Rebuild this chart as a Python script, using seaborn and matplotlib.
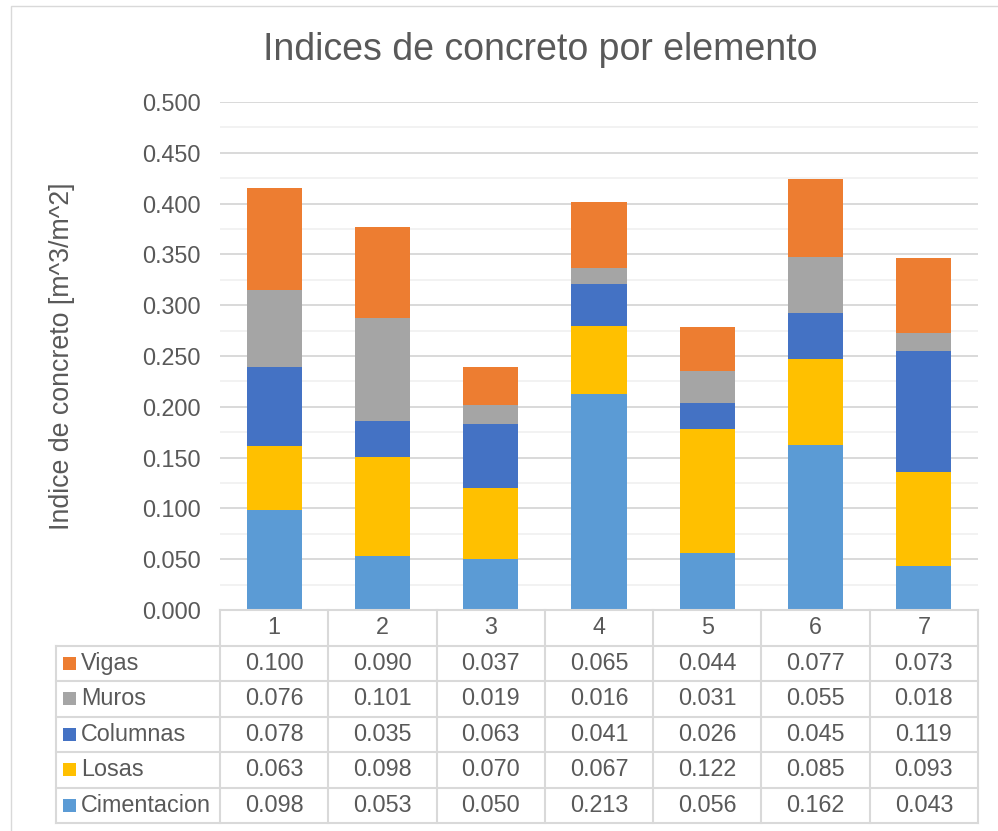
import matplotlib
matplotlib.use("Agg")
import matplotlib.pyplot as plt
import seaborn as sns
import pandas as pd
import numpy as np
from matplotlib.patches import Rectangle

# ---------------- data ----------------
categories = ["1", "2", "3", "4", "5", "6", "7"]
cimentacion = [0.098, 0.053, 0.050, 0.213, 0.056, 0.162, 0.043]
losas = [0.063, 0.098, 0.070, 0.067, 0.122, 0.085, 0.093]
columnas = [0.078, 0.035, 0.063, 0.041, 0.026, 0.045, 0.119]
muros = [0.076, 0.101, 0.019, 0.016, 0.031, 0.055, 0.018]
vigas = [0.100, 0.090, 0.037, 0.065, 0.044, 0.077, 0.073]
stack_names = ["Cimentacion", "Losas", "Columnas", "Muros", "Vigas"]  # bottom -> top
stack_values = [cimentacion, losas, columnas, muros, vigas]
colors = ["#5B9BD5", "#FFC000", "#4472C4", "#A5A5A5", "#ED7D31"]
y_ticks = [0.0, 0.05, 0.10, 0.15, 0.20, 0.25, 0.30, 0.35, 0.40, 0.45, 0.50]
title = "Indices de concreto por elemento"
ylabel = "Indice de concreto [m^3/m^2]"

# ---------------- style ----------------
sns.set_theme(style="white")
plt.rcParams["font.family"] = ["Liberation Sans", "DejaVu Sans"]
TXT = "#595959"
GRID = "#D9D9D9"
FS = 16.8

W, H = 998, 831
fig = plt.figure(figsize=(W / 100, H / 100), dpi=100)

def fx(px):
    return px / W

def fy(py):
    return 1 - py / H

# main axes: x 220..978, y 102..610
ax = fig.add_axes([fx(220), fy(610), fx(978) - fx(220), fy(102) - fy(610)])

rows = []
for name, vals in zip(stack_names, stack_values):
    for c, v in zip(categories, vals):
        rows.append({"cat": c, "element": name, "value": v})
df = pd.DataFrame(rows)
df["element"] = pd.Categorical(df["element"], categories=stack_names, ordered=True)
df = df.sort_values(["cat", "element"])
df["cum"] = df.groupby("cat")["value"].cumsum()

# draw from top element down so lower segments overlay
for name, col in reversed(list(zip(stack_names, colors))):
    sub = df[df["element"] == name]
    sns.barplot(data=sub, x="cat", y="cum", order=categories, color=col,
                saturation=1, width=0.51, errorbar=None, linewidth=0, ax=ax, zorder=3)

ax.set_xlim(-0.5, len(categories) - 0.5)
ax.set_ylim(0, 0.5)
ax.set_yticks(y_ticks)
ax.set_yticklabels([f"{t:.3f}" for t in y_ticks], color=TXT, fontsize=FS)
ax.set_yticks(np.arange(0.025, 0.5, 0.05), minor=True)
ax.set_xticks([])
ax.set_xlabel("")
ax.set_ylabel("")
ax.tick_params(axis="y", which="both", length=0, pad=14)
ax.grid(axis="y", which="major", color=GRID, lw=1.4, zorder=0)
ax.grid(axis="y", which="minor", color="#F2F2F2", lw=1.4, zorder=0)
ax.grid(axis="x", visible=False)
ax.set_axisbelow(True)
for s in ax.spines.values():
    s.set_visible(False)

# ---------------- data table ----------------
tab_left, tab_right, tab_top, tab_bot = 56, 978, 610, 823
col_px = (978 - 220) / len(categories)
lab_units = (220 - tab_left) / col_px
tax = fig.add_axes([fx(tab_left), fy(tab_bot), fx(tab_right) - fx(tab_left), fy(tab_top) - fy(tab_bot)])
x0 = -0.5 - lab_units
x1 = len(categories) - 0.5
nrows = len(stack_names) + 1
tax.set_xlim(x0, x1)
tax.set_ylim(0, nrows)
tax.axis("off")
row_px = (tab_bot - tab_top) / nrows

lkw = dict(color=GRID, lw=1.5, solid_capstyle="projecting", clip_on=False)
# horizontal lines
tax.plot([-0.5, x1], [nrows, nrows], **lkw)
for r in range(nrows):
    tax.plot([x0, x1], [r, r], **lkw)
# vertical lines
for j in range(len(categories) + 1):
    xv = -0.5 + j
    tax.plot([xv, xv], [0, nrows], **lkw)
tax.plot([x0, x0], [0, nrows - 1], **lkw)

# header
for j, c in enumerate(categories):
    tax.text(j, nrows - 0.5, c, ha="center", va="center", fontsize=FS, color=TXT)

table_order = list(reversed(range(len(stack_names))))  # Vigas first
for r, k in enumerate(table_order):
    yc = nrows - 1.5 - r
    sq_w = 13 / col_px
    sq_h = 13 / row_px
    tax.add_patch(Rectangle((x0 + 7 / col_px, yc - sq_h / 2), sq_w, sq_h,
                            color=colors[k], lw=0, clip_on=False))
    tax.text(x0 + 25 / col_px, yc, stack_names[k], ha="left", va="center",
             fontsize=FS, color=TXT)
    for j, v in enumerate(stack_values[k]):
        tax.text(j, yc, f"{v:.3f}", ha="center", va="center", fontsize=FS, color=TXT)

# titles
fig.text(fx(540), fy(50), title, ha="center", va="center", fontsize=27, color=TXT)
fig.text(fx(62), fy(356), ylabel, ha="center", va="center", rotation=90,
         fontsize=19.3, color=TXT)

# chart border
fig.add_artist(Rectangle((fx(11), -0.1), 2, fy(6) + 0.1, transform=fig.transFigure,
                         fill=False, ec=GRID, lw=1))

fig.savefig("out.png", dpi=100)
